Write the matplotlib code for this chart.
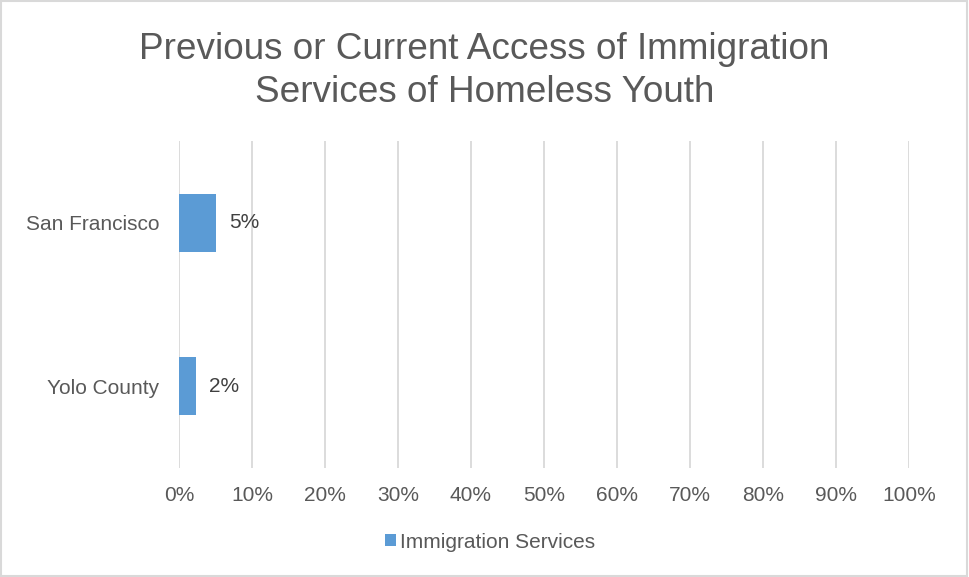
import matplotlib
matplotlib.use("Agg")
import matplotlib.pyplot as plt
from matplotlib.patches import Rectangle
from matplotlib.ticker import PercentFormatter, MultipleLocator

plt.rcParams['font.family'] = ['Liberation Sans', 'DejaVu Sans']

# Data
categories = ["San Francisco", "Yolo County"]
immigration_services = [0.051, 0.023]
series_name = "Immigration Services"
title = "Previous or Current Access of Immigration\nServices of Homeless Youth"

bar_color = "#5B9BD5"
grid_color = "#D9D9D9"
text_color = "#595959"
label_color = "#404040"

fig = plt.figure(figsize=(9.69, 5.77), dpi=100)
ax = fig.add_axes([179 / 969, 1 - 468 / 577, 730 / 969, 327 / 577])

ypos = list(range(len(categories)))
ax.barh(ypos, immigration_services, height=0.355, color=bar_color, zorder=3,
        label=series_name)
for y, v in zip(ypos, immigration_services):
    ax.text(v + 0.018, y, f"{v:.0%}", va="center", ha="left",
            fontsize=15, color=label_color)

ax.set_xlim(0, 1)
ax.set_ylim(len(categories) - 0.5, -0.5)
ax.set_yticks(ypos)
ax.set_yticklabels(categories)
ax.xaxis.set_major_locator(MultipleLocator(0.1))
ax.xaxis.set_major_formatter(PercentFormatter(1.0, decimals=0))
ax.tick_params(axis="both", length=0, labelsize=15, colors=text_color)
ax.tick_params(axis="x", pad=13)
ax.tick_params(axis="y", pad=14)
ax.grid(axis="x", color=grid_color, linewidth=1.3, zorder=0)
for s in ax.spines.values():
    s.set_visible(False)

fig.text(0.5, 1 - 71 / 577, title, ha="center", va="center",
         fontsize=26.6, color=text_color, linespacing=1.27)

leg = fig.legend(loc="center", bbox_to_anchor=(490 / 969, 1 - 542 / 577),
                 frameon=False, fontsize=15, handlelength=0.55,
                 handleheight=0.55, handletextpad=0.2)
for t in leg.get_texts():
    t.set_color(text_color)

# Chart border
fig.patches.append(Rectangle((0.001, 0.001), 0.997, 0.997, transform=fig.transFigure,
                             fill=False, edgecolor=grid_color, linewidth=1.5))

fig.savefig("out.png", dpi=100)
